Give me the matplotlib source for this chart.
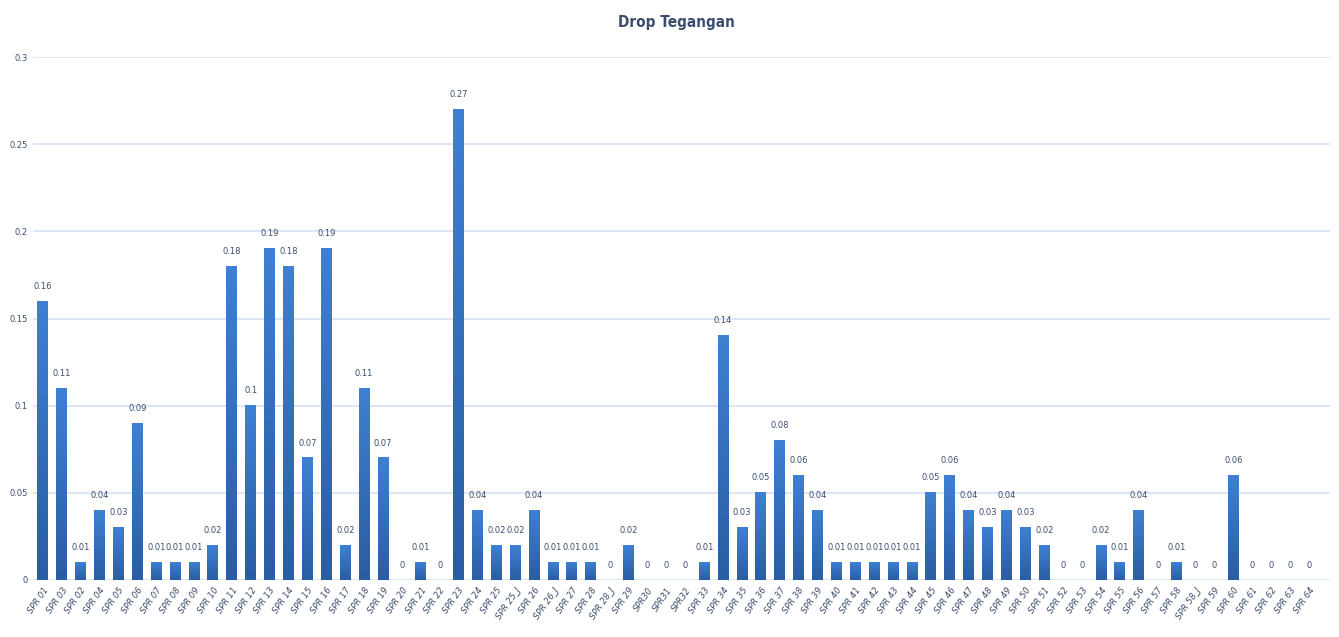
import matplotlib.pyplot as plt
import numpy as np
from matplotlib.colors import LinearSegmentedColormap

categories = ['SPR 01', 'SPR 03', 'SPR 02', 'SPR 04', 'SPR 05', 'SPR 06', 'SPR 07', 'SPR 08',
              'SPR 09', 'SPR 10', 'SPR 11', 'SPR 12', 'SPR 13', 'SPR 14', 'SPR 15', 'SPR 16',
              'SPR 17', 'SPR 18', 'SPR 19', 'SPR 20', 'SPR 21', 'SPR 22', 'SPR 23', 'SPR 24',
              'SPR 25', 'SPR 25_J', 'SPR 26', 'SPR 26_J', 'SPR 27', 'SPR 28', 'SPR 28_J', 'SPR 29',
              'SPR30', 'SPR31', 'SPR32', 'SPR 33', 'SPR 34', 'SPR 35', 'SPR 36', 'SPR 37',
              'SPR 38', 'SPR 39', 'SPR 40', 'SPR 41', 'SPR 42', 'SPR 43', 'SPR 44', 'SPR 45',
              'SPR 46', 'SPR 47', 'SPR 48', 'SPR 49', 'SPR 50', 'SPR 51', 'SPR 52', 'SPR 53',
              'SPR 54', 'SPR 55', 'SPR 56', 'SPR 57', 'SPR 58', 'SPR 58_J', 'SPR 59', 'SPR 60',
              'SPR 61', 'SPR 62', 'SPR 63', 'SPR 64']

drop = [0.16, 0.11, 0.01, 0.04, 0.03, 0.09, 0.01, 0.01,
        0.01, 0.02, 0.18, 0.1, 0.19, 0.18, 0.07, 0.19,
        0.02, 0.11, 0.07, 0, 0.01, 0, 0.27, 0.04,
        0.02, 0.02, 0.04, 0.01, 0.01, 0.01, 0, 0.02,
        0, 0, 0, 0.01, 0.14, 0.03, 0.05, 0.08,
        0.06, 0.04, 0.01, 0.01, 0.01, 0.01, 0.01, 0.05,
        0.06, 0.04, 0.03, 0.04, 0.03, 0.02, 0, 0,
        0.02, 0.01, 0.04, 0, 0.01, 0, 0, 0.06,
        0, 0, 0, 0]

text_color = '#3B4E6E'
grad = LinearSegmentedColormap.from_list('bar', ['#2A5DA3', '#3F80D2'])

fig = plt.figure(figsize=(13.39, 6.37), dpi=100)
ax = fig.add_axes([0.025, 0.0895, 0.968, 0.821])

x = np.arange(len(categories))
bar_w = 0.58
bars = ax.bar(x, drop, width=bar_w, color='#3572C0', zorder=2)

# vertical gradient on each bar
g = np.linspace(0, 1, 64).reshape(-1, 1)
for b in bars:
    h = b.get_height()
    if h <= 0:
        continue
    x0 = b.get_x()
    ax.imshow(g, cmap=grad, origin='lower', aspect='auto', zorder=3,
              extent=[x0, x0 + b.get_width(), 0, h])

for xi, v in zip(x, drop):
    ax.text(xi, v + 0.006, '{:g}'.format(v), ha='center', va='bottom',
            fontsize=6, color=text_color, zorder=4)

ax.set_xlim(-0.5, 68.1)
ax.set_ylim(0, 0.3)
ax.set_yticks([0, 0.05, 0.1, 0.15, 0.2, 0.25, 0.3])
ax.set_yticklabels(['0', '0.05', '0.1', '0.15', '0.2', '0.25', '0.3'])
ax.grid(axis='y', color='#D6E2F2', lw=1.2, zorder=0)
for s in ax.spines.values():
    s.set_visible(False)
ax.tick_params(axis='both', length=0, labelsize=6, labelcolor=text_color)
ax.tick_params(axis='y', pad=4)
ax.tick_params(axis='x', pad=4)
ax.set_xticks(x)
ax.set_xticklabels(categories, rotation=55, ha='right', rotation_mode='anchor',
                   fontstyle='italic')

fig.text(0.505, 0.965, 'Drop Tegangan', ha='center', va='center',
         fontsize=11, color=text_color, fontweight='bold', fontstretch='condensed')

plt.savefig('out.png', dpi=100)
